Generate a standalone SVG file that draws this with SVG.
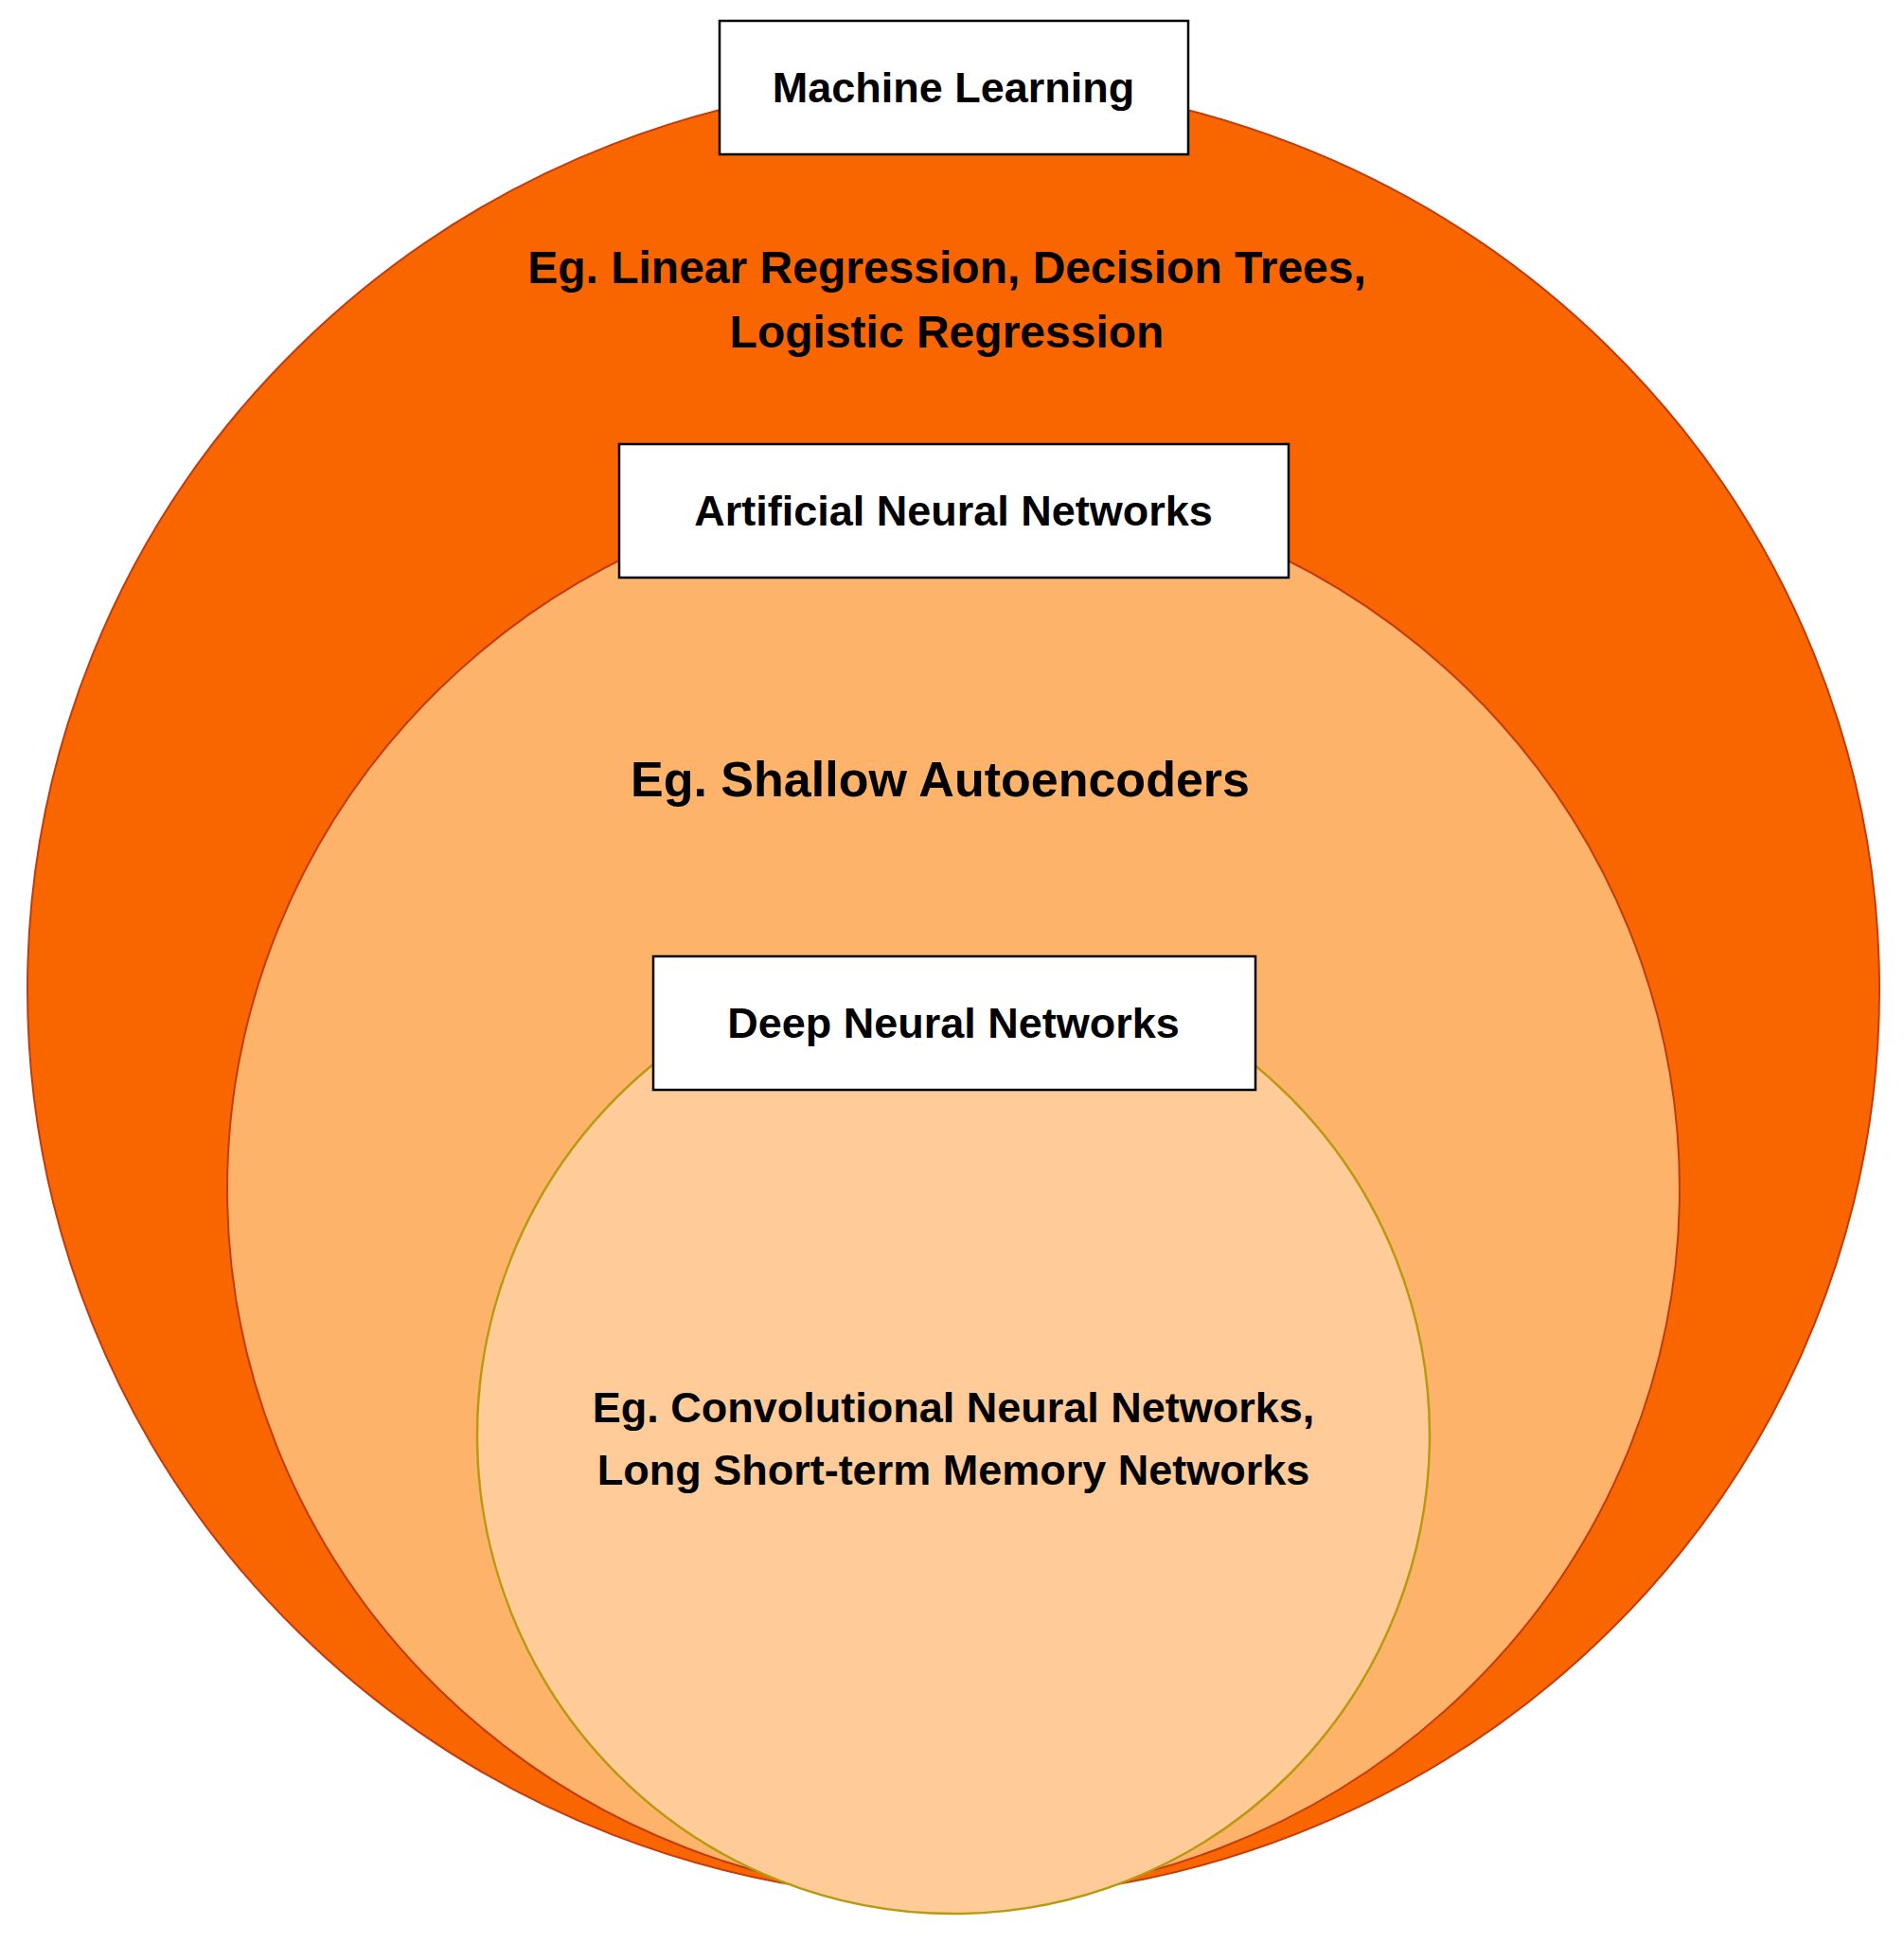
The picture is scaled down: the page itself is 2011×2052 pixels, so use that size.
<svg xmlns="http://www.w3.org/2000/svg" width="2011" height="2052" viewBox="0 0 2011 2052">
<style>
.lbl{fill:#fff;stroke:#000;stroke-width:2.5}
text{font-family:"Liberation Sans",Arial,sans-serif;font-weight:bold;fill:#000;text-anchor:middle;dominant-baseline:central}
</style>
<rect width="2011" height="2052" fill="#fff"/>
<g id="ml">
<ellipse cx="1007" cy="1045" rx="978" ry="960" fill="#F96600" stroke="#C23B0E" stroke-width="2"/>
<text x="1000" y="282" font-size="48">Eg. Linear Regression, Decision Trees,</text>
<text x="1000" y="350" font-size="48">Logistic Regression</text>
</g>
<g id="ann">
<ellipse cx="1007" cy="1256" rx="767" ry="748" fill="#FDB36A" stroke="#C23B0E" stroke-width="2"/>
<text x="993" y="823" font-size="52">Eg. Shallow Autoencoders</text>
</g>
<g id="dnn">
<ellipse cx="1007" cy="1516" rx="503" ry="505" fill="#FECB99" stroke="#B89A10" stroke-width="2.5"/>
<text x="1007" y="1486" font-size="45">Eg. Convolutional Neural Networks,</text>
<text x="1007" y="1552" font-size="45">Long Short-term Memory Networks</text>
</g>
<g id="ml-label"><rect class="lbl" x="760" y="22" width="495" height="141"/><text x="1007" y="92" font-size="45">Machine Learning</text></g>
<g id="ann-label"><rect class="lbl" x="654" y="469" width="707" height="141"/><text x="1007" y="539" font-size="45">Artificial Neural Networks</text></g>
<g id="dnn-label"><rect class="lbl" x="690" y="1010" width="636" height="141"/><text x="1007" y="1080" font-size="45">Deep Neural Networks</text></g>
<g id="connectors"/>
</svg>
